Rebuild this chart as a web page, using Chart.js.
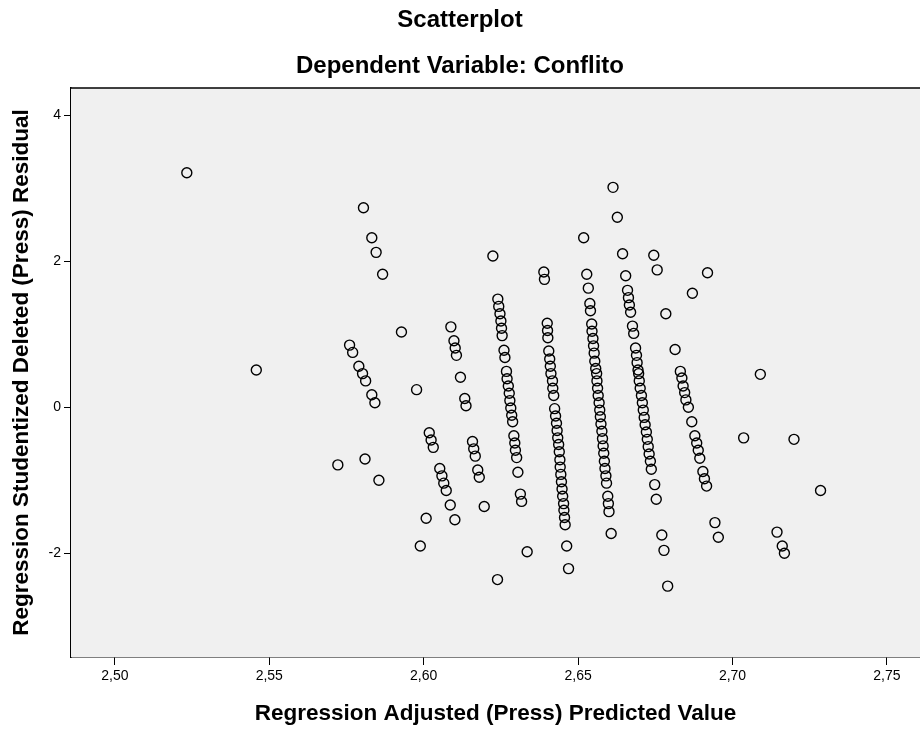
<!DOCTYPE html>
<html>
<head>
<meta charset="utf-8">
<title>Scatterplot</title>
<script src="https://cdn.jsdelivr.net/npm/chart.js@4.4.1/dist/chart.umd.min.js"></script>
<style>
  html, body { margin: 0; padding: 0; background: #fff; }
  #wrap { width: 920px; height: 729px; }
</style>
</head>
<body>
<div id="wrap"><canvas id="chart" width="920" height="729"></canvas></div>
<script>
// Regression Adjusted (Press) Predicted Value
const predicted = [
  2.5233, 2.5458, 2.5722, 2.5760, 2.5770, 2.5790, 2.5802, 2.5812, 2.5832, 2.5842,
  2.5805, 2.5832, 2.5846, 2.5867, 2.5810, 2.5855, 2.5928, 2.5977, 2.6018, 2.6024,
  2.6031, 2.6008, 2.5989, 2.6052, 2.6059, 2.6065, 2.6073, 2.6086, 2.6101, 2.6088,
  2.6098, 2.6102, 2.6106, 2.6119, 2.6133, 2.6137, 2.6158, 2.6162, 2.6167, 2.6175,
  2.6180, 2.6196, 2.6224, 2.6240, 2.6243, 2.6247, 2.6250, 2.6252, 2.6254, 2.6260,
  2.6263, 2.6268, 2.6270, 2.6274, 2.6277, 2.6279, 2.6282, 2.6285, 2.6288, 2.6292,
  2.6295, 2.6297, 2.6301, 2.6305, 2.6313, 2.6317, 2.6335, 2.6239, 2.6389, 2.6391,
  2.6400, 2.6401, 2.6402, 2.6405, 2.6408, 2.6410, 2.6412, 2.6417, 2.6418, 2.6421,
  2.6424, 2.6427, 2.6430, 2.6432, 2.6434, 2.6437, 2.6439, 2.6441, 2.6442, 2.6444,
  2.6446, 2.6448, 2.6450, 2.6453, 2.6454, 2.6456, 2.6458, 2.6463, 2.6469, 2.6518,
  2.6528, 2.6533, 2.6538, 2.6540, 2.6544, 2.6545, 2.6548, 2.6550, 2.6552, 2.6554,
  2.6557, 2.6560, 2.6561, 2.6563, 2.6565, 2.6568, 2.6570, 2.6572, 2.6574, 2.6577,
  2.6579, 2.6581, 2.6583, 2.6585, 2.6587, 2.6590, 2.6592, 2.6596, 2.6598, 2.6600,
  2.6607, 2.6613, 2.6627, 2.6644, 2.6654, 2.6660, 2.6663, 2.6666, 2.6670, 2.6676,
  2.6680, 2.6686, 2.6689, 2.6691, 2.6694, 2.6696, 2.6698, 2.6701, 2.6705, 2.6708,
  2.6711, 2.6714, 2.6717, 2.6721, 2.6724, 2.6727, 2.6730, 2.6734, 2.6737, 2.6748,
  2.6753, 2.6771, 2.6778, 2.6790, 2.6745, 2.6756, 2.6784, 2.6814, 2.6831, 2.6836,
  2.6840, 2.6845, 2.6849, 2.6857, 2.6868, 2.6878, 2.6884, 2.6889, 2.6894, 2.6904,
  2.6909, 2.6916, 2.6870, 2.6919, 2.6943, 2.6954, 2.7036, 2.7090, 2.7199, 2.7144,
  2.7161, 2.7168, 2.7285
];

// Regression Studentized Deleted (Press) Residual
const residual = [
   3.21,  0.51, -0.79,  0.85,  0.75,  0.56,  0.46,  0.36,  0.17,  0.06,
   2.73,  2.32,  2.12,  1.82, -0.71, -1.00,  1.03,  0.24, -0.35, -0.45,
  -0.55, -1.52, -1.90, -0.84, -0.94, -1.04, -1.14, -1.34, -1.54,  1.10,
   0.91,  0.81,  0.71,  0.41,  0.12,  0.02, -0.47, -0.57, -0.67, -0.86,
  -0.96, -1.36,  2.07,  1.48,  1.38,  1.28,  1.18,  1.08,  0.98,  0.78,
   0.68,  0.49,  0.39,  0.29,  0.19,  0.09, -0.01, -0.11, -0.20, -0.39,
  -0.49, -0.59, -0.69, -0.89, -1.19, -1.29, -1.98, -2.36,  1.85,  1.75,
   1.15,  1.05,  0.95,  0.77,  0.66,  0.56,  0.46,  0.36,  0.26,  0.16,
  -0.02, -0.12, -0.22, -0.32, -0.42, -0.51, -0.61, -0.72, -0.82, -0.92,
  -1.02, -1.12, -1.22, -1.32, -1.41, -1.51, -1.61, -1.90, -2.21,  2.32,
   1.82,  1.63,  1.42,  1.32,  1.14,  1.04,  0.94,  0.84,  0.74,  0.63,
   0.53,  0.46,  0.36,  0.26,  0.16,  0.06, -0.04, -0.13, -0.23, -0.33,
  -0.43, -0.53, -0.63, -0.74, -0.84, -0.94, -1.04, -1.22, -1.32, -1.43,
  -1.73,  3.01,  2.60,  2.10,  1.80,  1.60,  1.50,  1.40,  1.30,  1.11,
   1.01,  0.81,  0.71,  0.61,  0.51,  0.46,  0.36,  0.26,  0.16,  0.06,
  -0.04, -0.14, -0.24, -0.34, -0.44, -0.54, -0.64, -0.74, -0.85, -1.06,
  -1.26, -1.75, -1.96, -2.45,  2.08,  1.88,  1.28,  0.79,  0.49,  0.40,
   0.29,  0.20,  0.10,  0.00, -0.20, -0.39, -0.49, -0.59, -0.70, -0.88,
  -0.98, -1.08,  1.56,  1.84, -1.58, -1.78, -0.42,  0.45, -0.44, -1.71,
  -1.90, -2.00, -1.14
];

const xTicks = [2.50, 2.55, 2.60, 2.65, 2.70, 2.75];
const yTicks = [-2, 0, 2, 4];

const points = predicted.map((x, i) => ({ x: x, y: residual[i] }));

const FONT = "'Liberation Sans', Arial, sans-serif";

// grey plot background + top frame line (no right frame, like SPSS output)
const plotFrame = {
  id: 'plotFrame',
  beforeDatasetsDraw(chart) {
    const { ctx, chartArea: a } = chart;
    ctx.save();
    ctx.fillStyle = '#f0f0f0';
    ctx.fillRect(a.left, a.top, a.right - a.left, a.bottom - a.top);
    ctx.restore();
  },
  afterDraw(chart) {
    const { ctx, chartArea: a } = chart;
    ctx.save();
    ctx.strokeStyle = '#000';
    ctx.lineWidth = 1.5;
    ctx.beginPath();
    ctx.moveTo(a.left, a.top);
    ctx.lineTo(a.right, a.top);
    ctx.stroke();
    ctx.restore();
  }
};

new Chart(document.getElementById('chart'), {
  type: 'scatter',
  data: {
    datasets: [{
      label: 'Conflito',
      data: points,
      pointStyle: 'circle',
      pointRadius: 5,
      pointHoverRadius: 5,
      borderColor: '#000',
      borderWidth: 1.4,
      backgroundColor: 'rgba(0,0,0,0)'
    }]
  },
  options: {
    responsive: false,
    animation: false,
    events: [],
    layout: { padding: 0, autoPadding: false },
    plugins: {
      legend: { display: false },
      tooltip: { enabled: false },
      title: {
        display: true,
        text: 'Scatterplot',
        color: '#000',
        font: { family: FONT, size: 24, weight: 'bold' },
        padding: { top: 6, bottom: 8.4 }
      },
      subtitle: {
        display: true,
        text: 'Dependent Variable: Conflito',
        color: '#000',
        font: { family: FONT, size: 24, weight: 'bold' },
        padding: { top: 8.4, bottom: 7.6 }
      }
    },
    scales: {
      x: {
        type: 'linear',
        min: 2.4858,
        max: 2.7607,
        afterBuildTicks: (s) => { s.ticks = xTicks.map(v => ({ value: v })); },
        afterFit: (s) => { s.height = 72; s.paddingLeft = 0; s.paddingRight = 0; },
        ticks: {
          color: '#000',
          font: { family: FONT, size: 14 },
          padding: 3,
          callback: (v) => v.toFixed(2).replace('.', ',')
        },
        grid: { drawOnChartArea: false, drawTicks: true, tickLength: 8, color: '#000' },
        border: { display: true, color: '#000', width: 1.5 },
        title: {
          display: true,
          text: 'Regression Adjusted (Press) Predicted Value',
          color: '#000',
          font: { family: FONT, size: 22.5, weight: 'bold' },
          padding: { top: 0, bottom: 2 }
        }
      },
      y: {
        type: 'linear',
        min: -3.42,
        max: 4.37,
        afterBuildTicks: (s) => { s.ticks = yTicks.map(v => ({ value: v })); },
        afterFit: (s) => { s.width = 71; s.paddingTop = 0; s.paddingBottom = 0; },
        ticks: {
          color: '#000',
          font: { family: FONT, size: 14 },
          padding: 3
        },
        grid: { drawOnChartArea: false, drawTicks: true, tickLength: 7, color: '#000' },
        border: { display: true, color: '#000', width: 1.5 },
        title: {
          display: true,
          text: 'Regression Studentized Deleted (Press) Residual',
          color: '#000',
          font: { family: FONT, size: 22.5, weight: 'bold' },
          padding: { top: 8.5, bottom: 0 }
        }
      }
    }
  },
  plugins: [plotFrame]
});
</script>
</body>
</html>
